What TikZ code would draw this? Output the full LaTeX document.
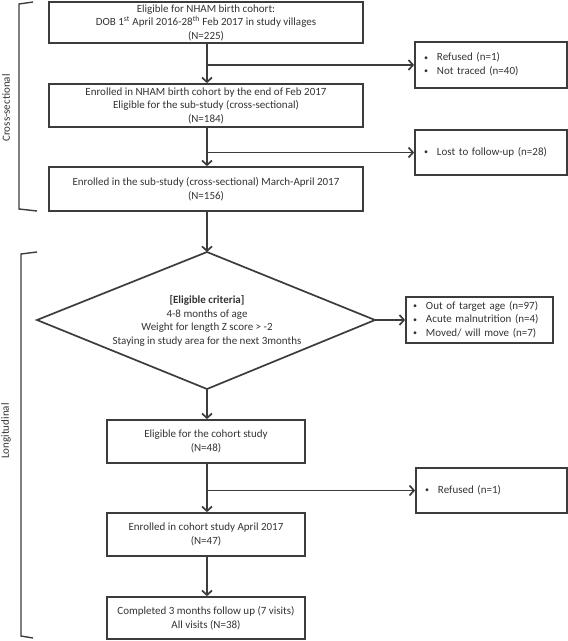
\documentclass[tikz,border=0pt]{standalone}
\usepackage{fontspec}
\setmainfont{Carlito}
\usetikzlibrary{arrows.meta,calc}
\definecolor{ln}{HTML}{3C3C3C}
\definecolor{tx}{HTML}{333333}
\newcommand{\bul}{{\fontsize{8}{8}\selectfont\raisebox{0.6pt}{•}}}
\begin{document}
\begin{tikzpicture}[x=1pt,y=-1pt,
  every node/.style={font=\fontsize{11}{13.5}\selectfont, text=tx},
  box/.style={draw=ln, line width=1.7pt, rectangle, inner sep=0pt, align=center},
  sbox/.style={draw=ln, line width=1.7pt, rectangle, inner ysep=0pt, inner xsep=9pt, align=left},
  conn/.style={draw=ln, line width=1.7pt, -{Straight Barb[length=4.5pt,width=10pt,line width=1.7pt]}},
  plain/.style={draw=ln, line width=1.7pt},
  brk/.style={draw=ln, line width=1.4pt}]
\useasboundingbox (0,0) rectangle (568,641);
% main boxes
\node[box, minimum width=314, minimum height=41] (b1) at (206,22.5)
  {Eligible for NHAM birth cohort:\\DOB 1\textsuperscript{st} April 2016-28\textsuperscript{th} Feb 2017 in study villages\\(N=225)};
\node[box, minimum width=314, minimum height=43] (b2) at (206,105.5)
  {Enrolled in NHAM birth cohort by the end of Feb 2017\\Eligible for the sub-study (cross-sectional)\\(N=184)};
\node[box, minimum width=314, minimum height=44] (b3) at (206,189)
  {Enrolled in the sub-study (cross-sectional) March-April 2017\\(N=156)};
\coordinate (dt) at (207,252);
\coordinate (dl) at (37,320);
\coordinate (dr) at (375,320);
\coordinate (db) at (207,389);
\draw[plain, line join=miter] (dt) -- (dr) -- (db) -- (dl) -- cycle;
\node[align=center] (dtext) at (207,321)
  {\textbf{[Eligible criteria]}\\4-8 months of age\\Weight for length Z score > -2\\Staying in study area for the next 3months};
\node[box, minimum width=198, minimum height=43] (b4) at (206,441.5)
  {Eligible for the cohort study\\(N=48)};
\node[box, minimum width=198, minimum height=43] (b5) at (206,534.5)
  {Enrolled in cohort study April 2017\\(N=47)};
\node[box, minimum width=198, minimum height=42] (b6) at (206,618)
  {Completed 3 months follow up (7 visits)\\All visits (N=38)};
% side boxes
\node[sbox, text width=134, minimum height=46] (s1) at (491,65)
  {\begin{tabular}{@{}l@{\hspace{9pt}}l@{}}\bul&Refused (n=1)\\\bul&Not traced (n=40)\end{tabular}};
\node[sbox, text width=134, minimum height=45] (s2) at (491,152.5)
  {\begin{tabular}{@{}l@{\hspace{9pt}}l@{}}\bul&Lost to follow-up (n=28)\end{tabular}};
\node[sbox, text width=133, minimum height=46, inner xsep=7pt] (s3) at (479.5,320)
  {\begin{tabular}{@{}l@{\hspace{9pt}}l@{}}\bul&Out of target age (n=97)\\\bul&Acute malnutrition (n=4)\\\bul&Moved/ will move (n=7)\end{tabular}};
\node[sbox, text width=133, minimum height=45] (s4) at (491.5,490.5)
  {\begin{tabular}{@{}l@{\hspace{9pt}}l@{}}\bul&Refused (n=1)\end{tabular}};
% connectors
\draw[conn] (b1.south -| dt) -- (b2.north -| dt);
\draw[conn] (dt |- s1.west) -- (s1.west);
\draw[conn] (b2.south -| dt) -- (b3.north -| dt);
\draw[conn] (dt |- s2.west) -- (s2.west);
\draw[conn] (b3.south -| dt) -- (dt);
\draw[conn] (dr) -- (s3.west);
\draw[conn] (db) -- (b4.north -| dt);
\draw[conn] (b4.south -| dt) -- (b5.north -| dt);
\draw[conn] (dt |- s4.west) -- (s4.west);
\draw[conn] (b5.south -| dt) -- (b6.north -| dt);
% brackets
\draw[brk] (33,2) -- (19,4) -- (19,209) -- (37,211);
\node[rotate=90] (lab1) at (6,108) {Cross-sectional};
\draw[brk] (37,252) -- (21,254) -- (21,636) -- (33,638);
\node[rotate=90] (lab2) at (6,431) {Longitudinal};
\end{tikzpicture}
\end{document}
